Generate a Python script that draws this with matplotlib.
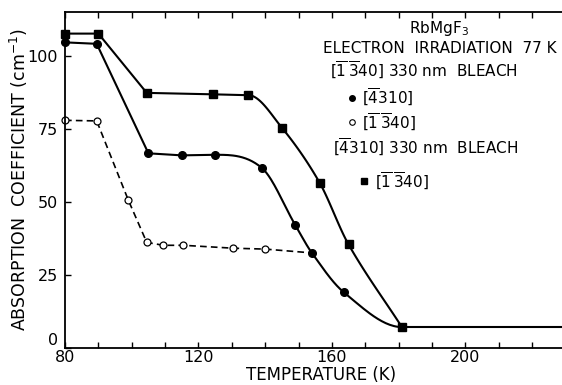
import numpy as np
import matplotlib
matplotlib.use('Agg')
import matplotlib.pyplot as plt

# [-4310] band after [-1-340] 330 nm bleach (filled circles)
temp_a = [80, 89.5, 105, 115, 125, 139, 149, 154, 163.5, 181]
absb_a = [104.5, 104, 66.5, 65.8, 66, 61.5, 42, 32.4, 19, 7]
# [-1-340] band after [-1-340] 330 nm bleach (open circles)
temp_b = [80, 89.5, 99, 104.5, 109.5, 115.5, 130.5, 140]
absb_b = [77.8, 77.6, 50.4, 36, 35, 35, 34, 33.7]
# [-1-340] band after [-4310] 330 nm bleach (squares)
temp_c = [80, 90, 104.5, 124.5, 135, 145, 156.3, 165, 181]
absb_c = [107.5, 107.5, 87.2, 86.7, 86.4, 75.3, 56.5, 35.3, 7]
# residual level above 181 K
temp_end = 229
absb_end = 7

x_ticks = [80, 120, 160, 200]
y_ticks = [0, 25, 50, 75, 100]


def smooth(x, y, m0, m1, n=30):
    # hermite curve, centred slopes, limited so each piece stays monotone
    x = np.asarray(x, float)
    y = np.asarray(y, float)
    h = np.diff(x)
    d = np.diff(y) / h
    m = np.zeros(len(x))
    m[0], m[-1] = m0, m1
    m[1:-1] = (y[2:] - y[:-2]) / (x[2:] - x[:-2])
    for k in range(len(d)):
        if d[k] == 0:
            m[k] = m[k + 1] = 0
            continue
        a, b = m[k] / d[k], m[k + 1] / d[k]
        if a < 0:
            m[k] = 0
            a = 0
        if b < 0:
            m[k + 1] = 0
            b = 0
        if a * a + b * b > 9:
            tau = 3 / np.hypot(a, b)
            m[k] = tau * a * d[k]
            m[k + 1] = tau * b * d[k]
    xs, ys = [], []
    t = np.linspace(0, 1, n)
    for k in range(len(d)):
        h00 = 2 * t**3 - 3 * t**2 + 1
        h10 = t**3 - 2 * t**2 + t
        h01 = -2 * t**3 + 3 * t**2
        h11 = t**3 - t**2
        xs.append(x[k] + t * h[k])
        ys.append(h00 * y[k] + h10 * h[k] * m[k] + h01 * y[k + 1] + h11 * h[k] * m[k + 1])
    return np.concatenate(xs), np.concatenate(ys)


plt.rcParams['font.family'] = 'DejaVu Sans'
plt.rcParams['mathtext.fontset'] = 'dejavusans'

fig = plt.figure(figsize=(5.62, 3.85), dpi=100)
ax = fig.add_axes([0.1157, 0.0974, 0.8843, 0.8722])

lw = 1.5
# filled circles: straight part, then smooth fall to the residual level
ax.plot(temp_a[:5], absb_a[:5], color='black', lw=lw)
sx, sy = smooth(temp_a[4:], absb_a[4:], 0.0, 0.0)
ax.plot(sx, sy, color='black', lw=lw)
ax.plot(temp_a, absb_a, 'o', color='black', ms=5.5, clip_on=False)

# squares
ax.plot(temp_c[:5], absb_c[:5], color='black', lw=lw)
sx, sy = smooth(temp_c[4:], absb_c[4:], 0.0,
                (absb_c[-1] - absb_c[-2]) / (temp_c[-1] - temp_c[-2]))
ax.plot(sx, sy, color='black', lw=lw)
ax.plot(temp_c, absb_c, 's', color='black', ms=6, clip_on=False)

# open circles, dashed, joining the filled curve at 154 K
ax.plot(temp_b + [temp_a[7]], absb_b + [absb_a[7]], color='black', lw=1.2,
        dashes=(4, 2.5))
ax.plot(temp_b, absb_b, 'o', mfc='white', mec='black', mew=0.9, ms=5,
        clip_on=False)

# residual level
ax.plot([temp_c[-1], temp_end], [absb_c[-1], absb_end], color='black', lw=lw)

ax.set_xlim(80, temp_end)
ax.set_ylim(0, 115)
ax.spines['right'].set_visible(False)
for s in ['left', 'bottom', 'top']:
    ax.spines[s].set_linewidth(1.3)
ax.set_xticks(x_ticks)
ax.set_xticks(np.arange(80, 230, 10), minor=True)
ax.set_yticks(y_ticks)
ax.tick_params(which='both', direction='in', top=True, length=4, width=1,
               labelsize=11.5)
ax.tick_params(axis='x', pad=1.5)
ax.tick_params(axis='y', pad=5)
# lift the "0" so it clears the "80" below it
ax.yaxis.get_major_ticks()[0].label1.set_va('bottom')

ax.set_xlabel('TEMPERATURE (K)', fontsize=12)
ax.xaxis.set_label_coords(0.515, -0.056)
ax.set_ylabel('ABSORPTION  COEFFICIENT (cm$^{-1}$)', fontsize=12.5)
ax.yaxis.set_label_coords(-0.071, 0.5)

fs = 11
ax.text(192, 109.2, 'RbMgF$_3$', fontsize=fs, ha='center', va='center')
ax.text(192.3, 102.4, 'ELECTRON  IRRADIATION  77 K', fontsize=fs,
        ha='center', va='center')
ax.text(159.3, 94.9, r'$[\overline{1}\,\overline{3}40]$ 330 nm  BLEACH',
        fontsize=fs, ha='left', va='center')
ax.plot([166.0], [85.6], 'o', color='black', ms=4)
ax.text(169.0, 85.6, r'$[\overline{4}310]$', fontsize=fs, ha='left', va='center')
ax.plot([166.0], [77.1], 'o', mfc='white', mec='black', mew=0.8, ms=4)
ax.text(169.0, 77.1, r'$[\overline{1}\,\overline{3}40]$', fontsize=fs,
        ha='left', va='center')
ax.text(160.3, 68.5, r'$[\overline{4}310]$ 330 nm  BLEACH', fontsize=fs,
        ha='left', va='center')
ax.plot([169.5], [56.9], 's', color='black', ms=5)
ax.text(173.0, 56.9, r'$[\overline{1}\,\overline{3}40]$', fontsize=fs,
        ha='left', va='center')

fig.savefig('out.png', dpi=100)
